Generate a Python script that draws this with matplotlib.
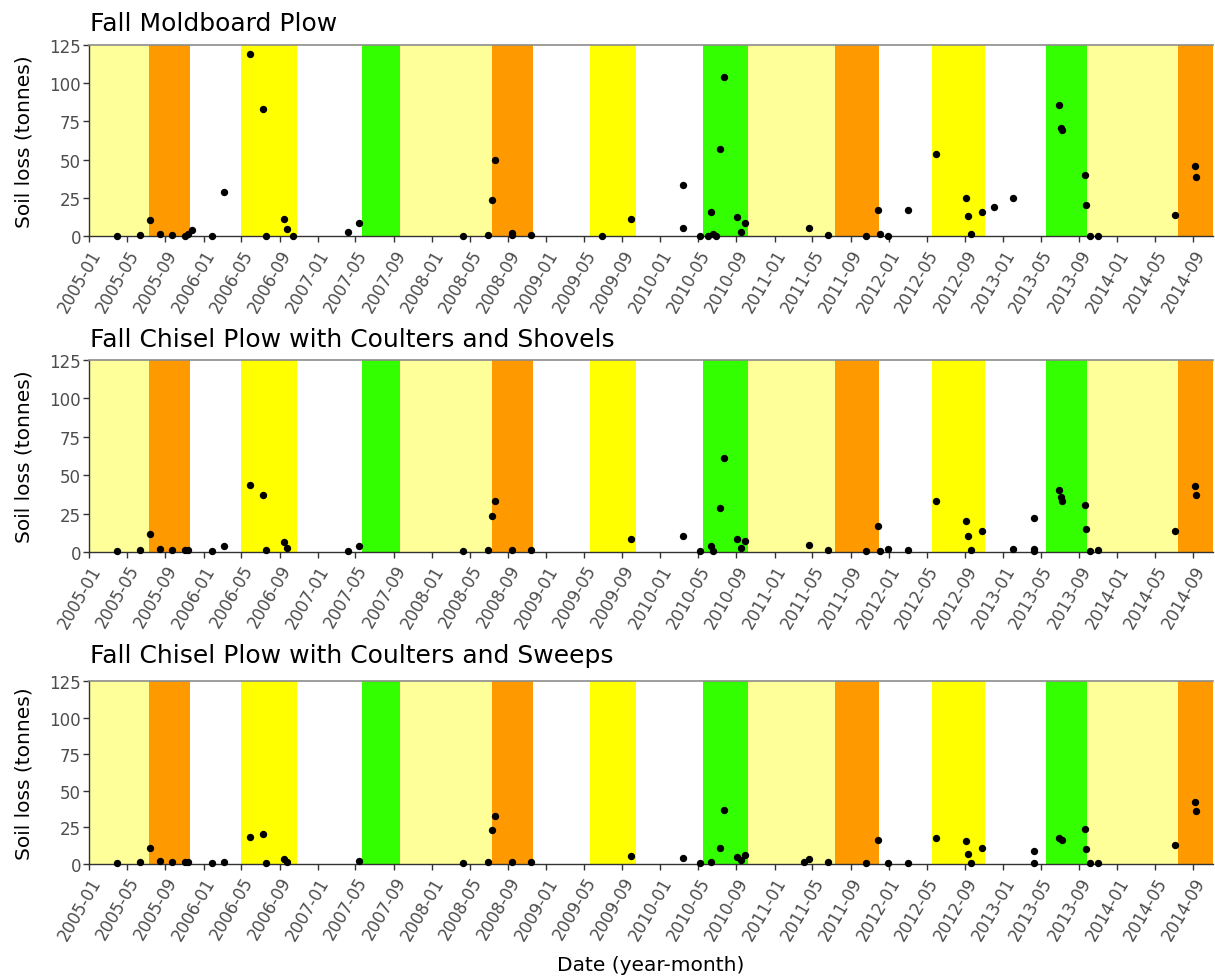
import matplotlib
matplotlib.use("Agg")
import matplotlib.pyplot as plt
import numpy as np
import pandas as pd

# ---------------- data ----------------
band_start = ["2005-01-01", "2005-07-09", "2006-05-01", "2007-05-23", "2007-09-22",
              "2008-07-13", "2009-05-20", "2010-05-17", "2010-10-07", "2011-07-13",
              "2012-05-19", "2013-05-17", "2013-09-26", "2014-07-15"]
band_end = ["2005-07-09", "2005-11-18", "2006-10-28", "2007-09-22", "2008-07-13",
            "2008-11-20", "2009-10-16", "2010-10-07", "2011-07-13", "2011-11-30",
            "2012-11-04", "2013-09-26", "2014-07-15", "2014-11-03"]
band_color = ["#FFFF99", "#FF9900", "#FFFF00", "#33FF00", "#FFFF99",
              "#FF9900", "#FFFF00", "#33FF00", "#FFFF99", "#FF9900",
              "#FFFF00", "#33FF00", "#FFFF99", "#FF9900"]

titles = ["Fall Moldboard Plow",
          "Fall Chisel Plow with Coulters and Shovels",
          "Fall Chisel Plow with Coulters and Sweeps"]

moldboard_dates = ["2005-03-30", "2005-06-11", "2005-07-13", "2005-08-16", "2005-09-23",
                   "2005-11-04", "2005-11-13", "2005-11-26", "2006-01-28", "2006-03-07",
                   "2006-05-28", "2006-07-10", "2006-07-19", "2006-09-16", "2006-09-25",
                   "2006-10-14", "2007-04-09", "2007-05-13", "2008-04-10", "2008-06-28",
                   "2008-07-10", "2008-07-20", "2008-09-12", "2008-09-14", "2008-11-14",
                   "2009-06-29", "2009-09-29", "2010-03-13", "2010-03-13", "2010-05-08",
                   "2010-06-03", "2010-06-11", "2010-06-18", "2010-06-28", "2010-07-09",
                   "2010-07-23", "2010-09-03", "2010-09-15", "2010-09-28", "2011-04-21",
                   "2011-06-22", "2011-10-19", "2011-11-29", "2011-12-04", "2011-12-29",
                   "2012-03-03", "2012-06-01", "2012-09-05", "2012-09-09", "2012-09-19",
                   "2012-10-24", "2012-12-04", "2013-01-31", "2013-06-28", "2013-07-06",
                   "2013-07-08", "2013-09-21", "2013-09-22", "2013-10-06", "2013-10-31",
                   "2014-07-06", "2014-09-06", "2014-09-11"]
moldboard_loss = [0.4, 1.0, 10.9, 1.7, 0.6,
                  0.2, 1.3, 3.9, 0.4, 29.1,
                  118.9, 82.8, 0.4, 11.5, 4.8,
                  0.4, 3.0, 8.5, 0.2, 0.9,
                  23.7, 49.6, 2.4, 0.7, 0.9,
                  0.4, 11.5, 33.7, 5.2, 0.4,
                  0.4, 16.1, 1.3, 0.4, 56.7,
                  104.1, 12.8, 3.0, 8.9, 5.2,
                  0.9, 0.4, 17.2, 1.5, 0.4,
                  17.2, 53.9, 25.2, 13.5, 1.7,
                  16.1, 18.9, 25.2, 85.4, 70.9,
                  69.4, 40.2, 20.4, 0.4, 0.4,
                  13.9, 46.1, 38.5]

shovels_dates = ["2005-03-30", "2005-06-11", "2005-07-13", "2005-08-16", "2005-09-23",
                 "2005-11-04", "2005-11-13", "2006-01-28", "2006-03-07", "2006-05-28",
                 "2006-07-10", "2006-07-19", "2006-09-16", "2006-09-25", "2007-04-09",
                 "2007-05-13", "2008-04-10", "2008-06-28", "2008-07-10", "2008-07-20",
                 "2008-09-12", "2008-11-14", "2009-09-29", "2010-03-13", "2010-05-08",
                 "2010-06-11", "2010-06-18", "2010-07-09", "2010-07-23", "2010-09-03",
                 "2010-09-15", "2010-09-28", "2011-04-21", "2011-06-22", "2011-10-19",
                 "2011-11-29", "2011-12-04", "2011-12-29", "2012-03-03", "2012-06-01",
                 "2012-09-05", "2012-09-09", "2012-09-19", "2012-10-24", "2013-01-31",
                 "2013-04-10", "2013-04-10", "2013-04-11", "2013-06-28", "2013-07-06",
                 "2013-07-08", "2013-09-21", "2013-09-22", "2013-10-06", "2013-10-31",
                 "2014-07-06", "2014-09-06", "2014-09-11"]
shovels_loss = [0.9, 1.3, 11.5, 1.9, 1.3,
                1.1, 1.5, 0.9, 3.9, 43.5,
                36.8, 1.1, 6.3, 2.4, 0.9,
                4.1, 0.6, 1.3, 23.6, 32.9,
                1.3, 1.5, 8.2, 10.4, 0.6,
                4.1, 0.6, 28.8, 61.1, 8.4,
                2.4, 7.4, 4.3, 1.3, 0.6,
                16.9, 0.6, 2.2, 1.3, 33.4,
                20.4, 10.2, 1.3, 13.6, 1.9,
                22.1, 1.9, 0.6, 40.5, 36.0,
                33.4, 30.8, 14.7, 0.9, 1.1,
                13.9, 43.1, 36.8]

sweeps_dates = ["2005-03-30", "2005-06-11", "2005-07-13", "2005-08-16", "2005-09-23",
                "2005-11-04", "2005-11-13", "2006-01-28", "2006-03-07", "2006-05-28",
                "2006-07-10", "2006-07-19", "2006-09-16", "2006-09-25", "2007-05-13",
                "2008-04-10", "2008-06-28", "2008-07-10", "2008-07-20", "2008-09-12",
                "2008-11-14", "2009-09-29", "2010-03-13", "2010-05-08", "2010-06-11",
                "2010-07-09", "2010-07-23", "2010-09-03", "2010-09-15", "2010-09-28",
                "2011-04-04", "2011-04-21", "2011-06-22", "2011-10-19", "2011-11-29",
                "2011-12-29", "2012-03-03", "2012-06-01", "2012-09-05", "2012-09-09",
                "2012-09-19", "2012-10-24", "2013-04-10", "2013-04-10", "2013-06-28",
                "2013-07-08", "2013-09-21", "2013-09-22", "2013-10-06", "2013-10-31",
                "2014-07-06", "2014-09-06", "2014-09-11"]
sweeps_loss = [0.9, 1.1, 11.2, 2.3, 1.1,
               1.1, 1.6, 0.9, 1.4, 18.2,
               20.3, 0.7, 3.2, 1.6, 2.1,
               0.7, 1.1, 23.3, 33.1, 1.1,
               1.4, 5.5, 3.9, 0.9, 1.4,
               10.9, 37.0, 4.8, 2.7, 5.9,
               1.1, 3.4, 1.6, 0.9, 16.7,
               0.9, 0.7, 17.6, 15.5, 6.8,
               0.9, 10.7, 8.7, 0.9, 18.0,
               16.4, 24.0, 10.0, 0.9, 0.9,
               13.0, 42.2, 36.0]

y_ticks = [0, 25, 50, 75, 100, 125]
x_tick_dates = pd.date_range("2005-01-01", "2014-09-01", freq="4MS")
x_tick_labels = [d.strftime("%Y-%m") for d in x_tick_dates]

panels = [(moldboard_dates, moldboard_loss),
          (shovels_dates, shovels_loss),
          (sweeps_dates, sweeps_loss)]

# ---------------- figure ----------------
W, H = 1215, 979
fig = plt.figure(figsize=(W / 100, H / 100), dpi=100)
plt.rcParams["font.family"] = ["DejaVu Sans"]

rects = [(45.7, 237.3), (360.7, 553.0), (682.3, 865.0)]
title_base = [31, 346.7, 663.3]
left_px, right_px = 89.4, 1213

xmin = pd.Timestamp("2005-01-01")
xmax = pd.Timestamp("2014-11-03")

tick_col = "#4D4D4D"
axis_col = "#333333"

for i, ((dates, vals), (top, bot)) in enumerate(zip(panels, rects)):
    ax = fig.add_axes([left_px / W, 1 - bot / H, (right_px - left_px) / W, (bot - top) / H])
    for s, e, c in zip(band_start, band_end, band_color):
        ax.axvspan(pd.Timestamp(s), pd.Timestamp(e), color=c, lw=0, zorder=0)
    ax.scatter(pd.to_datetime(dates), vals, s=28, color="black", zorder=3,
               clip_on=False, linewidths=0)
    ax.set_xlim(xmin, xmax)
    ax.set_ylim(0, 125)
    ax.set_yticks(y_ticks)
    ax.set_yticklabels([str(v) for v in y_ticks])
    ax.set_xticks(x_tick_dates)
    ax.set_xticklabels(x_tick_labels, rotation=60, ha="right", va="top",
                       rotation_mode="anchor")
    ax.tick_params(axis="both", colors=axis_col, labelcolor=tick_col,
                   labelsize=12, length=4, width=1)
    ax.tick_params(axis="x", pad=3)
    ax.tick_params(axis="y", pad=2)
    for side in ["left", "bottom"]:
        ax.spines[side].set_color(axis_col)
        ax.spines[side].set_linewidth(1)
    ax.spines["right"].set_visible(False)
    ax.spines["top"].set_color("#8C8C8C")
    ax.spines["top"].set_linewidth(1.2)
    ax.set_facecolor("white")

    fig.text(left_px / W + 0.0005, 1 - title_base[i] / H, titles[i], fontsize=18,
             ha="left", va="baseline", color="black")
    fig.text(24 / W, 1 - (top + bot) / 2 / H, "Soil loss (tonnes)", rotation=90,
             fontsize=14.5, ha="center", va="center", color="black")

fig.text(651 / W, 1 - 966 / H, "Date (year-month)", fontsize=14.5,
         ha="center", va="center", color="black")

fig.savefig("out.png", dpi=100, facecolor="white")
